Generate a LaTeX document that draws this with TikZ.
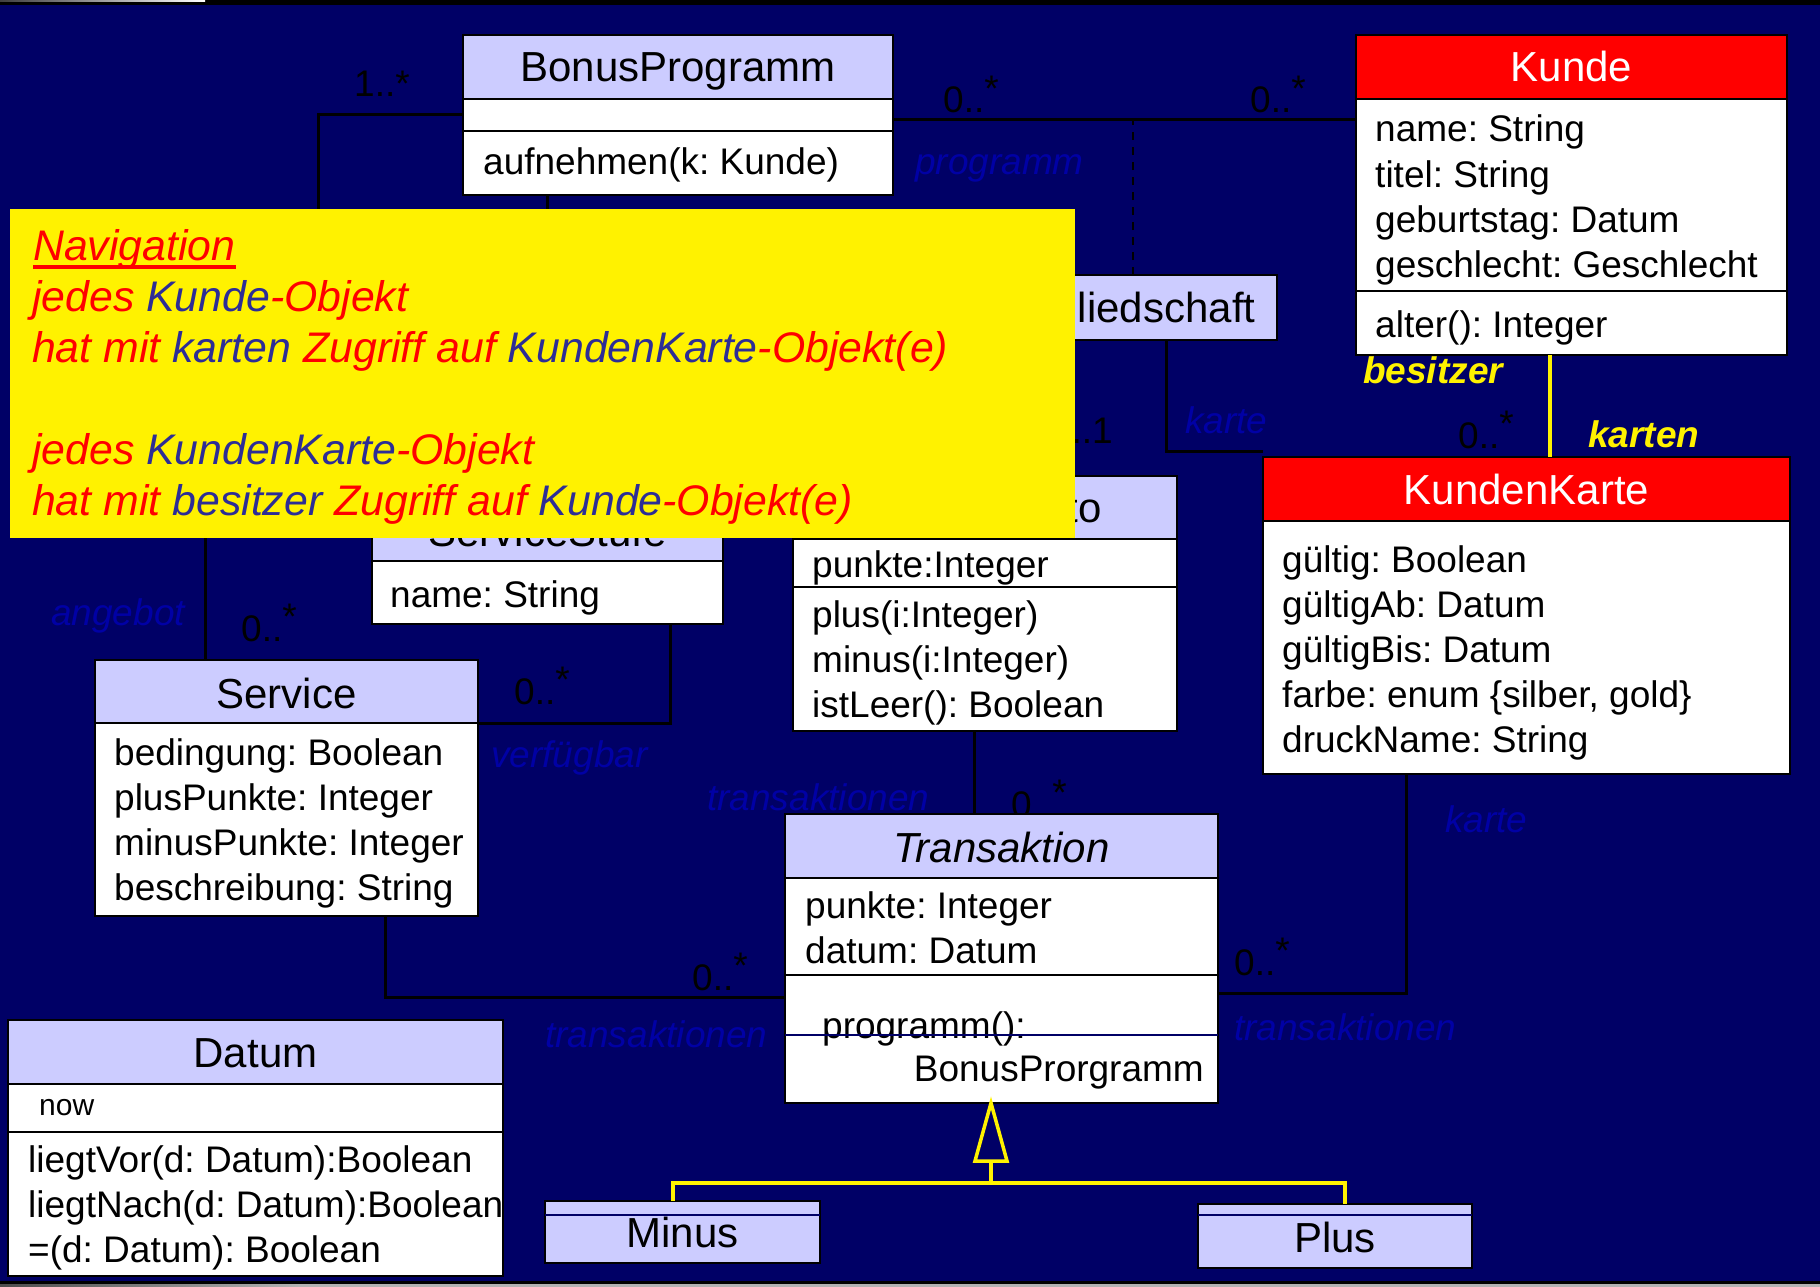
\documentclass[tikz,border=0pt]{standalone}
\usepackage{fontspec}
\setmainfont{Liberation Sans}
\usetikzlibrary{calc}
\frenchspacing
\definecolor{navy}{RGB}{0,0,102}
\definecolor{lav}{RGB}{204,204,255}
\definecolor{rolec}{RGB}{0,0,165}
\definecolor{notered}{RGB}{255,0,0}
\definecolor{noteblue}{RGB}{45,45,150}
\definecolor{umlred}{RGB}{255,0,0}
\newcommand\fsz[1]{\fontsize{#1}{#1}\selectfont}
% multiplicity with raised asterisk
\newcommand\rs{\raisebox{0.32em}{*}}
\newcommand\redt[1]{\textcolor{notered}{#1}}
\newcommand\bluet[1]{\textcolor{noteblue}{#1}}

\begin{document}
\begin{tikzpicture}[x=1pt,y=-1pt,
  box/.style={draw=black, line width=2.5pt, inner sep=0pt, outer sep=0pt, anchor=north west},
  head/.style={box, fill=lav},
  redhead/.style={box, fill=umlred},
  body/.style={box, fill=white},
  ttl/.style={anchor=base, inner sep=0pt, font=\fsz{42}},
  wttl/.style={ttl, text=white},
  txt/.style={anchor=base west, inner sep=0pt, font=\fsz{37}},
  role/.style={anchor=base west, inner sep=0pt, font=\fsz{37}\itshape, text=rolec},
  mult/.style={anchor=base west, inner sep=0pt, font=\fsz{37}},
  yrole/.style={anchor=base west, inner sep=0pt, font=\fsz{37}\bfseries\itshape, text=yellow},
  conn/.style={draw=black, line width=3pt},
  yel/.style={draw=yellow, line width=4pt},
  thin/.style={draw=navy, line width=1.5pt},
  note/.style={fill=yellow, inner sep=0pt, outer sep=0pt, anchor=north west},
  ntxt/.style={anchor=base west, inner sep=0pt, font=\fsz{42.8}\itshape}
]
\useasboundingbox (0,0) rectangle (1820,1287);
\fill[navy] (0,0) rectangle (1820,1287);
% frame strips
\fill[black] (0,0) rectangle (1820,5);
\shade[left color=black!75, right color=white] (0,0) rectangle (205,2);
\fill[black] (0,1281) rectangle (1820,1284);
\fill[gray!60] (0,1284) rectangle (1820,1287);
\shade[left color=black!70, right color=gray!60] (0,1284) rectangle (300,1287);

% ---------- bend points ----------
\coordinate (a2) at (318,420);
\coordinate (a3) at (205,420);
\coordinate (kl) at (0,120);
\coordinate (dsx) at (1133,0);
\coordinate (mk) at (1166,451);
\coordinate (yx) at (1550,0);
\coordinate (vx) at (670,0);
\coordinate (sc) at (385,997);
\coordinate (px) at (974,0);
\coordinate (tk) at (1406,993);
\coordinate (gt) at (991,0);
\coordinate (gb) at (0,1161);
\coordinate (gh) at (0,1183);
\coordinate (mx) at (673,0);
\coordinate (plx) at (1345,0);
\coordinate (tl) at (0,1035);
\coordinate (ml) at (0,1215);

% multiplicity partly hidden under the Transaktion box
\node[mult] (m8) at (1011,817) {0..\rs};

% ---------- class boxes ----------
% BonusProgramm
\node[head, minimum width=430pt, minimum height=64pt] (bpT) at (463,35) {};
\node[body, minimum width=430pt, minimum height=32pt] (bpA) at (463,99) {};
\node[body, minimum width=430pt, minimum height=64pt] (bpO) at (463,131) {};
% Kunde
\node[redhead, minimum width=431pt, minimum height=64pt] (kuT) at (1356,35) {};
\node[body, minimum width=431pt, minimum height=192pt] (kuA) at (1356,99) {};
\node[body, minimum width=431pt, minimum height=64pt] (kuO) at (1356,291) {};
% KundenKarte
\node[redhead, minimum width=527pt, minimum height=64pt] (kkT) at (1263,457) {};
\node[body, minimum width=527pt, minimum height=253pt] (kkA) at (1263,521) {};
% Mitgliedschaft
\node[head, minimum width=300pt, minimum height=65pt] (mg) at (977,275) {};
% Punktekonto
\node[head, minimum width=384pt, minimum height=63pt] (pkT) at (793,476) {};
\node[body, minimum width=384pt, minimum height=48pt] (pkA) at (793,539) {};
\node[body, minimum width=384pt, minimum height=144pt] (pkO) at (793,587) {};
% ServiceStufe
\node[head, minimum width=351pt, minimum height=63pt] (ssT) at (372,498) {};
\node[body, minimum width=351pt, minimum height=63pt] (ssA) at (372,561) {};
% Service
\node[head, minimum width=383pt, minimum height=63pt] (svT) at (95,660) {};
\node[body, minimum width=383pt, minimum height=193pt] (svA) at (95,723) {};
% Transaktion
\node[head, minimum width=433pt, minimum height=64pt] (trT) at (785,814) {};
\node[body, minimum width=433pt, minimum height=97pt] (trA) at (785,878) {};
\node[body, minimum width=433pt, minimum height=128pt] (trO) at (785,975) {};
% Datum
\node[head, minimum width=495pt, minimum height=64pt] (dtT) at (8,1020) {};
\node[body, minimum width=495pt, minimum height=48pt] (dtA) at (8,1084) {};
\node[body, minimum width=495pt, minimum height=144pt] (dtO) at (8,1132) {};
% Minus, Plus
\node[head, minimum width=275pt, minimum height=62pt] (mi) at (545,1201) {};
\node[head, minimum width=274pt, minimum height=64pt] (pl) at (1198,1204) {};

% ---------- connectors ----------
\draw[conn] (bpA.west) -| (a2) -- (a3) -- (a3 |- svT.north);
\draw[conn] (ssT.north) -- (ssT.north |- bpO.south);
\draw[conn] (bpA.east |- kl) -- (kuA.west |- kl);
\draw[draw=black, line width=2pt, dash pattern=on 8pt off 7pt] (mg.north -| dsx) -- (dsx |- kl);
\draw[conn] (mg.south -| mk) -- (mk) -- (mk -| kkT.west);
\draw[yel] (kuO.south -| yx) -- (kkT.north -| yx);
\draw[conn] (svT.south east) -- (svT.south east -| vx) -- (vx |- ssA.south);
\draw[conn] (svA.south -| sc) -- (sc) -- (sc -| trO.west);
\draw[conn] (pkO.south -| px) -- (trT.north -| px);
\draw[conn] (tk -| trO.east) -- (tk) -- (tk |- kkA.south);
% generalization Minus/Plus -> Transaktion
\draw[yel] (gt |- gb) -- (gt |- gh);
\draw[yel] (mi.north -| mx) -- (mx |- gh) -- (plx |- gh) -- (pl.north -| plx);
\draw[yel, line width=3.5pt, fill=navy] (trO.south -| gt) -- ($(gt |- gb)+(-16,0)$) -- ($(gt |- gb)+(16,0)$) -- cycle;

% ---------- multiplicities and role names ----------
\node[mult] (m1) at (354,97) {1..*};
\node[mult] (m2) at (943,113) {0..\rs};
\node[mult] (m3) at (1250,113) {0..\rs};
\node[mult] (m4) at (1458,448) {0..\rs};
\node[mult, anchor=base east] (m5) at (1113,443) {0..1};
\node[mult] (m6) at (241,641) {0..\rs};
\node[mult] (m7) at (514,704) {0..\rs};
\node[mult] (m9) at (692,990) {0..\rs};
\node[mult] (m10) at (1234,975) {0..\rs};

\node[role] (r1) at (915,175) {programm};
\node[role] (r2) at (51,625) {angebot};
\node[role] (r3) at (491,767) {verfügbar};
\node[role] (r4) at (707,810) {transaktionen};
\node[role] (r5) at (545,1047) {transaktionen};
\node[role] (r6) at (1234,1040) {transaktionen};
\node[role] (r7) at (1185,433) {karte};
\node[role] (r8) at (1445,832) {karte};
\node[yrole] (r9) at (1363,383) {besitzer};
\node[yrole] (r10) at (1588,447) {karten};

% ---------- class texts ----------
\node[ttl] (bpN) at (678,82) {BonusProgramm};
\node[txt] (bp1) at (483,175) {aufnehmen(k: Kunde)};

\node[wttl] (kuN) at (1571.5,82) {Kunde};
\node[txt] (ku1) at (1375,142) {name: String};
\node[txt] (ku2) at (1375,187) {titel: String};
\node[txt] (ku3) at (1375,232) {geburtstag: Datum};
\node[txt] (ku4) at (1375,277) {geschlecht: Geschlecht};
\node[txt] (ku5) at (1375,337) {alter(): Integer};

\node[wttl] (kkN) at (1526.5,504) {KundenKarte};
\node[txt] (kk1) at (1282,572) {gültig: Boolean};
\node[txt] (kk2) at (1282,617) {gültigAb: Datum};
\node[txt] (kk3) at (1282,662) {gültigBis: Datum};
\node[txt] (kk4) at (1282,707) {farbe: enum \{silber, gold\}};
\node[txt] (kk5) at (1282,752) {druckName: String};

\node[ttl] (mgN) at (1127,322) {Mitgliedschaft};

\node[ttl] (pkN) at (985,522) {Punktekonto};
\node[txt] (pk1) at (812,577) {punkte:Integer};
\node[txt] (pk2) at (812,627) {plus(i:Integer)};
\node[txt] (pk3) at (812,672) {minus(i:Integer)};
\node[txt] (pk4) at (812,717) {istLeer(): Boolean};

\node[ttl] (ssN) at (547.5,546) {ServiceStufe};
\node[txt] (ss1) at (390,607) {name: String};

\node[ttl] (svN) at (286.5,708) {Service};
\node[txt] (sv1) at (114,765) {bedingung: Boolean};
\node[txt] (sv2) at (114,810) {plusPunkte: Integer};
\node[txt] (sv3) at (114,855) {minusPunkte: Integer};
\node[txt] (sv4) at (114,900) {beschreibung: String};

\node[ttl, font=\fsz{42}\itshape] (trN) at (1001.5,862) {Transaktion};
\node[txt] (tr1) at (805,918) {punkte: Integer};
\node[txt] (tr2) at (805,963) {datum: Datum};
\node[txt] (tr3) at (822,1038) {programm():};
\node[txt, anchor=base east] (tr4) at (1204,1081) {BonusProrgramm};
\draw[thin] (trO.west |- tl) -- (trO.east |- tl);

\node[ttl] (dtN) at (255.5,1067) {Datum};
\node[txt, font=\fsz{30}] (dt0) at (39,1115) {now};
\node[txt] (dt1) at (28,1172) {liegtVor(d: Datum):Boolean};
\node[txt] (dt2) at (28,1217) {liegtNach(d: Datum):Boolean};
\node[txt] (dt3) at (28,1262) {=(d: Datum): Boolean};

\draw[thin] (mi.west |- ml) -- (mi.east |- ml);
\draw[thin] (pl.west |- ml) -- (pl.east |- ml);
\node[ttl] (miN) at (682.5,1247) {Minus};
\node[ttl] (plN) at (1335,1252) {Plus};

% ---------- note ----------
\node[note, minimum width=1065pt, minimum height=329pt] (note) at (10,209) {};
\node[ntxt] (n1) at (33,260) {\redt{Navigation}};
\draw[notered, line width=3.5pt] ([yshift=-7pt]n1.base west) -- ([yshift=-7pt]n1.base east);
\node[ntxt] (n2) at (32,311) {\redt{jedes }\bluet{Kunde}\redt{-Objekt}};
\node[ntxt] (n3) at (32,362) {\redt{hat mit }\bluet{karten }\redt{Zugriff auf }\bluet{KundenKarte}\redt{-Objekt(e)}};
\node[ntxt] (n4) at (32,464) {\redt{jedes }\bluet{KundenKarte}\redt{-Objekt}};
\node[ntxt] (n5) at (32,515) {\redt{hat mit }\bluet{besitzer }\redt{Zugriff auf }\bluet{Kunde}\redt{-Objekt(e)}};
\end{tikzpicture}
\end{document}
